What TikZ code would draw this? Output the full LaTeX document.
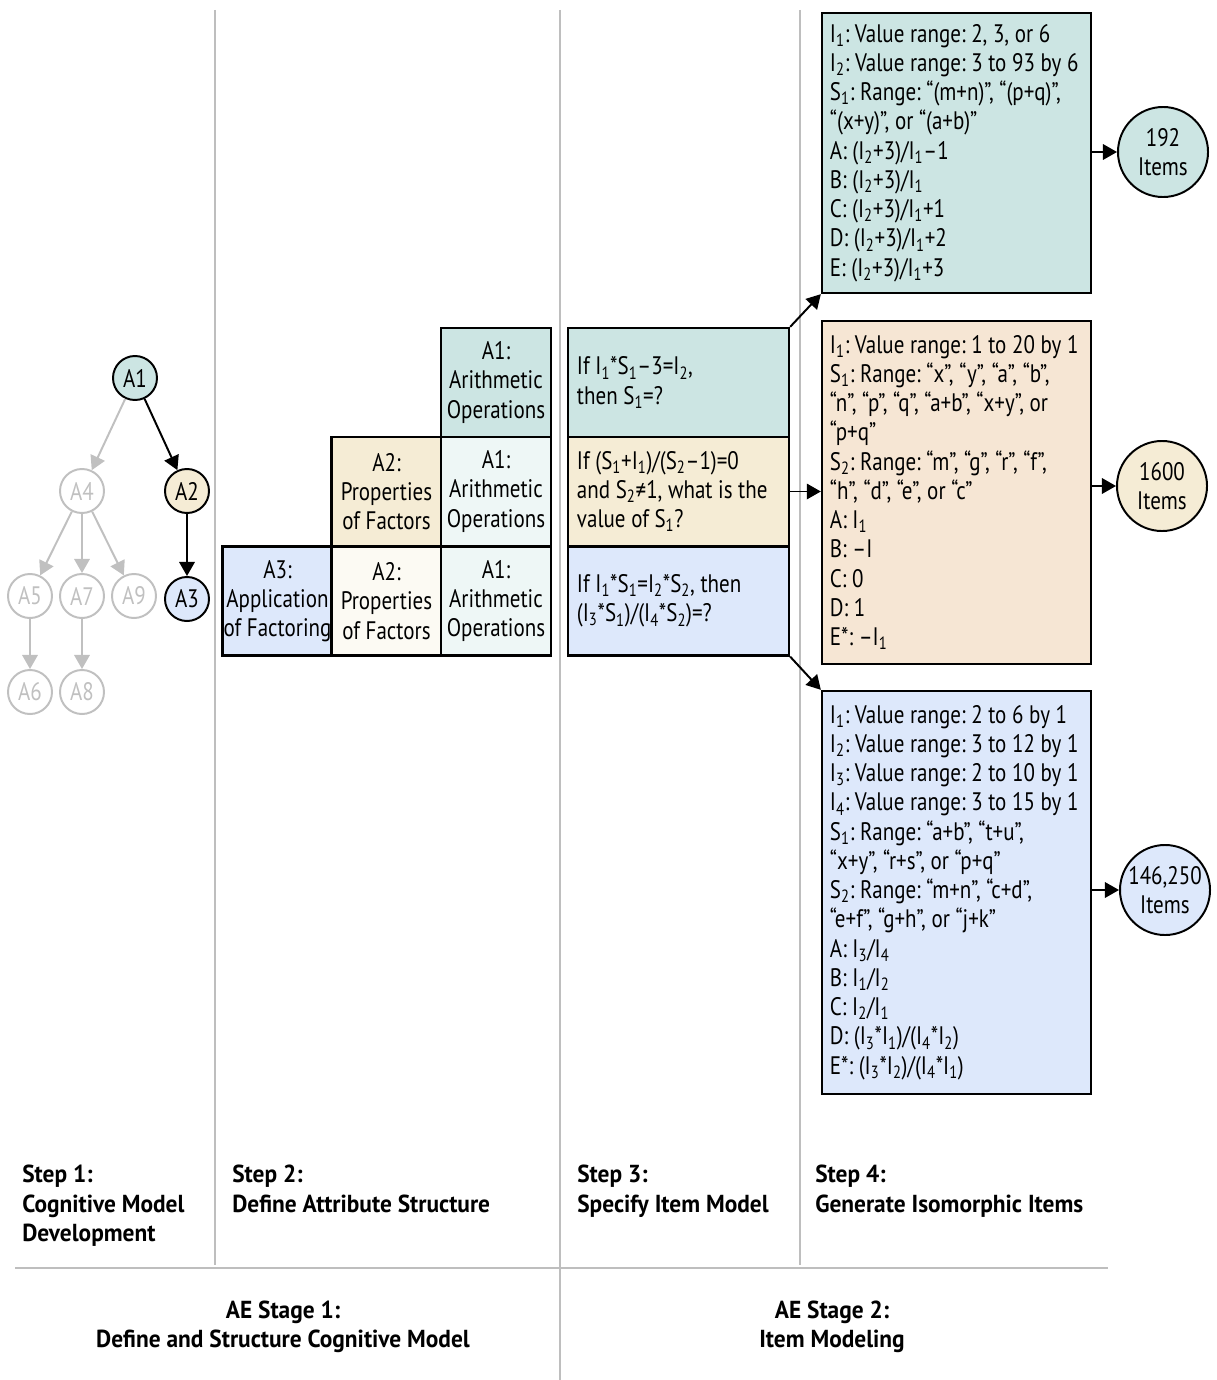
\documentclass[tikz,border=0pt]{standalone}
\usepackage{fontspec}
\setmainfont{PT Sans}[FakeStretch=0.83, Numbers=Proportional]
\newfontfamily\lblfont{PT Sans}[FakeStretch=0.95]
\usepackage{tikz}
\usetikzlibrary{arrows.meta, positioning, shapes.geometric}
\definecolor{tealfill}{RGB}{204,229,227}
\definecolor{tealpale}{RGB}{238,247,246}
\definecolor{beigefill}{RGB}{245,236,213}
\definecolor{beigepale}{RGB}{252,250,243}
\definecolor{bluefill}{RGB}{221,232,251}
\definecolor{peachfill}{RGB}{246,230,212}
\definecolor{sepgray}{RGB}{190,190,190}
\definecolor{treegray}{RGB}{192,192,192}
\newcommand{\lo}[1]{\textsubscript{#1}}

\begin{document}
\begin{tikzpicture}[
  x=0.025cm, y=-0.025cm,
  every node/.style={font=\fontsize{18}{20.8}\selectfont\frenchspacing},
  sep/.style={draw=sepgray, line width=1.4pt},
  attr/.style={circle, draw=black, line width=1.4pt, minimum size=1.1cm, inner sep=0pt},
  faded/.style={attr, draw=treegray, text=treegray},
  cell/.style={rectangle, draw=black, line width=1.6pt, minimum width=2.75cm,
               minimum height=2.725cm, align=flush center, inner sep=0pt},
  model/.style={rectangle, draw=black, line width=1.6pt, minimum height=2.725cm,
                text width=5.075cm, inner xsep=0.225cm, align=flush left},
  gen/.style={rectangle, draw=black, line width=1.6pt, text width=6.325cm,
              inner xsep=0.2cm, align=flush left},
  count/.style={circle, draw=black, line width=1.4pt, minimum size=2.25cm,
                inner sep=0pt, align=flush center},
  steplbl/.style={anchor=north west, align=flush left, inner sep=0pt,
                  font=\lblfont\fontsize{17.5}{20.8}\selectfont\bfseries\frenchspacing},
  stagelbl/.style={align=flush center, inner sep=0pt,
                   font=\lblfont\fontsize{17.5}{20.8}\selectfont\bfseries\frenchspacing},
  arrow/.style={-{Triangle[length=10pt, width=11pt]}, line width=1.4pt},
  grayarrow/.style={arrow, treegray}
]
  \useasboundingbox (0,0) rectangle (1216,1380);

  \draw[sep] (215,10) -- (215,1265);
  \draw[sep] (560,10) -- (560,1380);
  \draw[sep] (800,10) -- (800,1265);
  \draw[sep] (15,1268) -- (1108,1268);

  % step 1
  \node[attr, fill=tealfill]  (a1) at (135,378) {A1};
  \node[attr, fill=beigefill] (a2) at (187,491) {A2};
  \node[attr, fill=bluefill]  (a3) at (187,599) {A3};
  \node[faded] (a4) at (82,491) {A4};
  \node[faded] (a5) at (30,596) {A5};
  \node[faded] (a7) at (82,596) {A7};
  \node[faded] (a9) at (134,596) {A9};
  \node[faded] (a6) at (30,692) {A6};
  \node[faded] (a8) at (82,692) {A8};

  \draw[grayarrow] (a1) -- (a4);
  \foreach \n in {a5, a7, a9}{
    \draw[grayarrow] (a4) -- (\n);
  }
  \draw[grayarrow] (a5) -- (a6);
  \draw[grayarrow] (a7) -- (a8);
  \draw[arrow] (a1) -- (a2);
  \draw[arrow] (a2) -- (a3);

  % step 2
  \node[cell, fill=tealfill]  (c13) at (496,382.5) {A1:\\Arithmetic\\Operations};
  \node[cell, fill=beigefill] (c22) at (386.5,491.5) {A2:\\Properties\\of Factors};
  \node[cell, fill=tealpale]  (c23) at (496,491.5) {A1:\\Arithmetic\\Operations};
  \node[cell, fill=bluefill]  (c31) at (277.5,601) {A3:\\Application\\of Factoring};
  \node[cell, fill=beigepale] (c32) at (386.5,601) {A2:\\Properties\\of Factors};
  \node[cell, fill=tealpale]  (c33) at (496,601) {A1:\\Arithmetic\\Operations};

  % step 3
  \node[model, fill=tealfill]  (im1) at (678.5,382.5)
    {If I\lo{1}*S\lo{1}–3=I\lo{2},\\then S\lo{1}=?};
  \node[model, fill=beigefill] (im2) at (678.5,491.5)
    {If (S\lo{1}+I\lo{1})/(S\lo{2}–1)=0\\and S\lo{2}≠1, what is the\\value of S\lo{1}?};
  \node[model, fill=bluefill]  (im3) at (678.5,601)
    {If I\lo{1}*S\lo{1}=I\lo{2}*S\lo{2}, then\\(I\lo{3}*S\lo{1})/(I\lo{4}*S\lo{2})=?};

  % step 4
  \node[gen, fill=tealfill, minimum height=7cm] (gen1) at (956.5,153)
    {I\lo{1}: Value range: 2, 3, or 6\\
     I\lo{2}: Value range: 3 to 93 by 6\\
     S\lo{1}: Range: “(m+n)”, “(p+q)”,\\
     “(x+y)”, or “(a+b)”\\
     A: (I\lo{2}+3)/I\lo{1}–1\\
     B: (I\lo{2}+3)/I\lo{1}\\
     C: (I\lo{2}+3)/I\lo{1}+1\\
     D: (I\lo{2}+3)/I\lo{1}+2\\
     E: (I\lo{2}+3)/I\lo{1}+3};
  \node[gen, fill=peachfill, minimum height=8.575cm] (gen2) at (956.5,492.5)
    {I\lo{1}: Value range: 1 to 20 by 1\\
     S\lo{1}: Range: “x”, “y”, “a”, “b”,\\
     “n”, “p”, “q”, “a+b”, “x+y”, or\\
     “p+q”\\
     S\lo{2}: Range: “m”, “g”, “r”, “f”,\\
     “h”, “d”, “e”, or “c”\\
     A: I\lo{1}\\
     B: –I\\
     C: 0\\
     D: 1\\
     E*: –I\lo{1}};
  \node[gen, fill=bluefill, minimum height=10.075cm] (gen3) at (956.5,892.5)
    {I\lo{1}: Value range: 2 to 6 by 1\\
     I\lo{2}: Value range: 3 to 12 by 1\\
     I\lo{3}: Value range: 2 to 10 by 1\\
     I\lo{4}: Value range: 3 to 15 by 1\\
     S\lo{1}: Range: “a+b”, “t+u”,\\
     “x+y”, “r+s”, or “p+q”\\
     S\lo{2}: Range: “m+n”, “c+d”,\\
     “e+f”, “g+h”, or “j+k”\\
     A: I\lo{3}/I\lo{4}\\
     B: I\lo{1}/I\lo{2}\\
     C: I\lo{2}/I\lo{1}\\
     D: (I\lo{3}*I\lo{1})/(I\lo{4}*I\lo{2})\\
     E*: (I\lo{3}*I\lo{2})/(I\lo{4}*I\lo{1})};

  \node[count, fill=tealfill]  (cnt1) at (1163,152) {192\\Items};
  \node[count, fill=beigefill] (cnt2) at (1162,486) {1600\\Items};
  \node[count, fill=bluefill]  (cnt3) at (1165,890) {146,250\\Items};

  \draw[arrow] (im1.north east) -- (gen1.south west);
  \draw[arrow] (im2.east) -- (im2.east -| gen2.west);
  \draw[arrow] (im3.south east) -- (gen3.north west);
  \draw[arrow] (gen1.east |- cnt1) -- (cnt1);
  \draw[arrow] (gen2.east |- cnt2) -- (cnt2);
  \draw[arrow] (gen3.east |- cnt3) -- (cnt3);

  % labels
  \node[steplbl] (s1) at (22,1165) {Step 1:\\Cognitive Model\\Development};
  \node[steplbl] (s2) at (232,1165) {Step 2:\\Define Attribute Structure};
  \node[steplbl] (s3) at (577,1165) {Step 3:\\Specify Item Model};
  \node[steplbl] (s4) at (815,1165) {Step 4:\\Generate Isomorphic Items};
  \node[stagelbl] (ae1) at (283,1327) {AE Stage 1:\\Define and Structure Cognitive Model};
  \node[stagelbl] (ae2) at (832,1327) {AE Stage 2:\\Item Modeling};

\end{tikzpicture}
\end{document}
